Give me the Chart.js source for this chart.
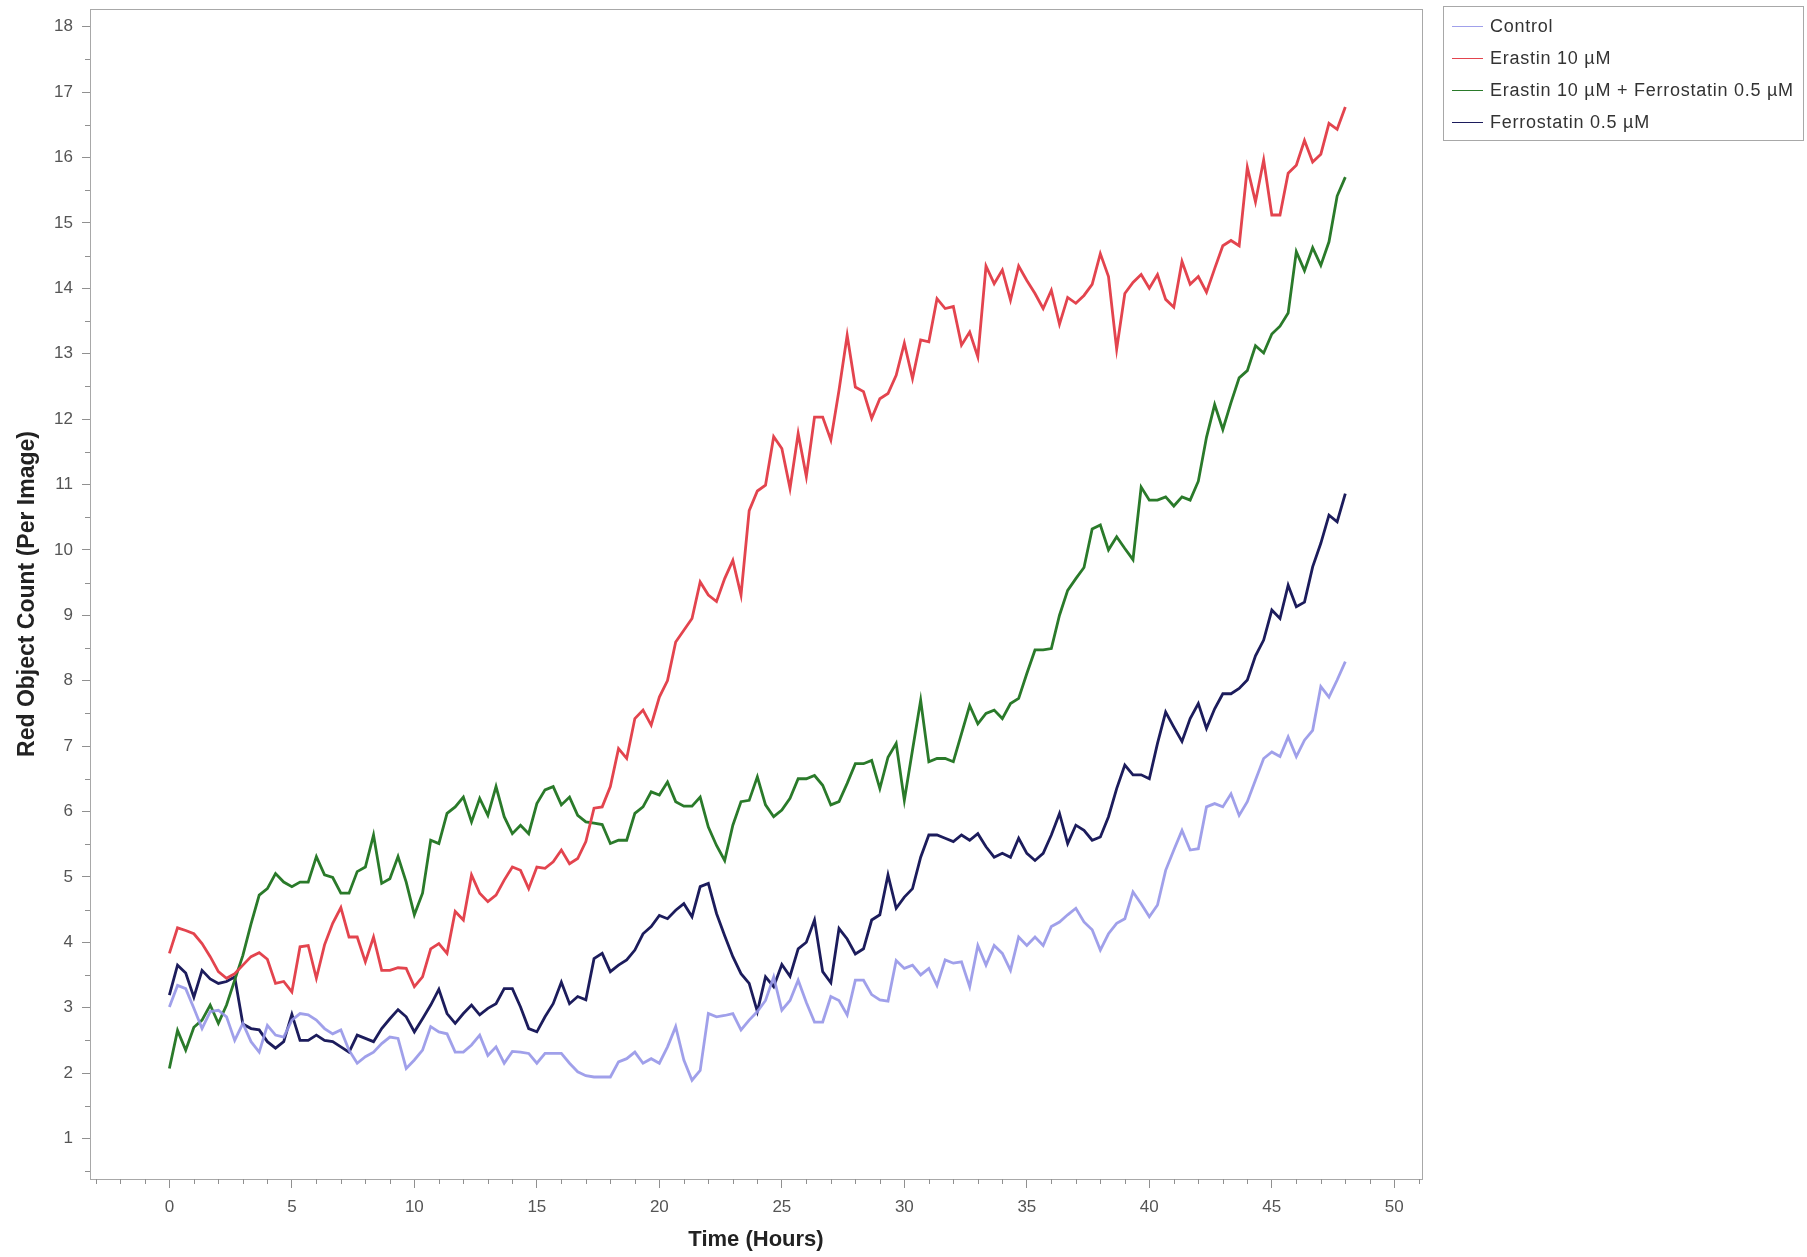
<!DOCTYPE html>
<html>
<head>
<meta charset="utf-8">
<script src="https://cdn.jsdelivr.net/npm/chart.js@4.4.0/dist/chart.umd.min.js"></script>
<style>
html, body { margin: 0; padding: 0; background: #fff; }
#wrap { position: relative; width: 1807px; height: 1257px; }
#legend {
    position: absolute; left: 1443px; top: 6px; width: 361px; height: 135px;
    box-sizing: border-box; border: 1px solid #a8a8a8; padding-top: 3px;
    font-family: "Liberation Sans", Arial, sans-serif; font-size: 18px; letter-spacing: 0.75px; color: #333;
}
.item { display: flex; align-items: center; height: 32px; white-space: nowrap; }
.swatch { width: 31px; height: 0; border-top: 1.5px solid; margin-left: 8px; margin-right: 7px; }
</style>
</head>
<body>
<div id="wrap">
    <canvas id="chart-1" width="1807" height="1257"></canvas>
    <div id="legend"></div>
</div>
<script>
// sampled every 20 minutes, 0 .. 48 h
const STEP = 1 / 3;

const control = [
    3.01, 3.34, 3.29, 2.99, 2.68, 2.94, 2.96, 2.86, 2.50, 2.76, 2.48, 2.32,
    2.73, 2.58, 2.55, 2.81, 2.91, 2.89, 2.81, 2.68, 2.60, 2.66, 2.35, 2.15,
    2.25, 2.32, 2.45, 2.55, 2.53, 2.07, 2.20, 2.35, 2.71, 2.63, 2.60, 2.32,
    2.32, 2.43, 2.58, 2.27, 2.40, 2.15, 2.33, 2.32, 2.30, 2.15, 2.30, 2.30,
    2.30, 2.15, 2.02, 1.96, 1.94, 1.94, 1.94, 2.17, 2.22, 2.32, 2.15, 2.22,
    2.15, 2.40, 2.71, 2.20, 1.89, 2.04, 2.91, 2.86, 2.88, 2.91, 2.66, 2.81,
    2.94, 3.11, 3.47, 2.96, 3.11, 3.42, 3.08, 2.78, 2.78, 3.17, 3.11, 2.89,
    3.42, 3.42, 3.20, 3.12, 3.10, 3.72, 3.60, 3.65, 3.50, 3.60, 3.34, 3.73,
    3.68, 3.70, 3.32, 3.95, 3.65, 3.95, 3.83, 3.57, 4.08, 3.95, 4.08, 3.95,
    4.24, 4.31, 4.42, 4.52, 4.31, 4.19, 3.88, 4.13, 4.29, 4.36, 4.77, 4.59,
    4.39, 4.57, 5.10, 5.41, 5.71, 5.41, 5.43, 6.07, 6.12, 6.07, 6.27, 5.94,
    6.15, 6.48, 6.81, 6.91, 6.84, 7.14, 6.84, 7.09, 7.24, 7.91, 7.75, 8.01,
    8.29
];

const erastin = [
    3.83, 4.22, 4.18, 4.13, 3.98, 3.78, 3.55, 3.45, 3.52, 3.65, 3.78, 3.84,
    3.74, 3.37, 3.40, 3.24, 3.93, 3.95, 3.45, 3.96, 4.29, 4.53, 4.08, 4.08,
    3.70, 4.08, 3.57, 3.57, 3.61, 3.60, 3.32, 3.47, 3.90, 3.98, 3.83, 4.47,
    4.34, 5.03, 4.75, 4.62, 4.72, 4.95, 5.15, 5.10, 4.82, 5.15, 5.13, 5.23,
    5.41, 5.20, 5.28, 5.54, 6.05, 6.07, 6.38, 6.96, 6.81, 7.42, 7.55, 7.32,
    7.75, 8.00, 8.59, 8.77, 8.95, 9.51, 9.31, 9.21, 9.56, 9.84, 9.31, 10.60,
    10.90, 10.99, 11.73, 11.55, 10.94, 11.78, 11.12, 12.03, 12.03, 11.68, 12.44, 13.28,
    12.49, 12.42, 12.01, 12.31, 12.39, 12.67, 13.16, 12.62, 13.21, 13.18, 13.84, 13.69,
    13.72, 13.13, 13.33, 12.95, 14.34, 14.07, 14.28, 13.82, 14.34, 14.12, 13.92, 13.69,
    13.97, 13.45, 13.86, 13.77, 13.89, 14.06, 14.53, 14.18, 13.07, 13.92, 14.09, 14.21,
    14.00, 14.21, 13.83, 13.71, 14.41, 14.06, 14.18, 13.94, 14.30, 14.65, 14.73, 14.65,
    15.85, 15.32, 15.96, 15.12, 15.12, 15.76, 15.88, 16.26, 15.93, 16.05, 16.52, 16.43,
    16.77
];

const erastinFerro = [
    2.07, 2.65, 2.35, 2.70, 2.81, 3.04, 2.76, 3.04, 3.42, 3.80, 4.28, 4.72,
    4.82, 5.05, 4.92, 4.85, 4.92, 4.92, 5.31, 5.03, 4.99, 4.75, 4.75, 5.08,
    5.15, 5.64, 4.90, 4.97, 5.31, 4.92, 4.42, 4.75, 5.56, 5.51, 5.97, 6.07,
    6.22, 5.84, 6.20, 5.94, 6.38, 5.92, 5.66, 5.79, 5.66, 6.12, 6.33, 6.38,
    6.10, 6.22, 5.94, 5.84, 5.82, 5.80, 5.51, 5.56, 5.56, 5.97, 6.07, 6.30,
    6.25, 6.45, 6.15, 6.08, 6.08, 6.22, 5.76, 5.48, 5.25, 5.79, 6.15, 6.17,
    6.53, 6.10, 5.92, 6.02, 6.20, 6.50, 6.50, 6.55, 6.40, 6.10, 6.15, 6.43,
    6.73, 6.73, 6.78, 6.35, 6.83, 7.04, 6.17, 6.94, 7.70, 6.76, 6.81, 6.81,
    6.76, 7.19, 7.62, 7.34, 7.50, 7.55, 7.42, 7.65, 7.73, 8.11, 8.47, 8.47,
    8.49, 9.00, 9.38, 9.56, 9.73, 10.32, 10.38, 10.00, 10.20, 10.02, 9.85, 10.96,
    10.76, 10.76, 10.81, 10.67, 10.81, 10.76, 11.05, 11.72, 12.22, 11.84, 12.25, 12.63,
    12.74, 13.12, 13.01, 13.30, 13.42, 13.62, 14.56, 14.27, 14.62, 14.35, 14.71, 15.41,
    15.70
];

const ferrostatin = [
    3.19, 3.65, 3.53, 3.16, 3.57, 3.44, 3.37, 3.40, 3.47, 2.75, 2.68, 2.66,
    2.48, 2.38, 2.48, 2.90, 2.50, 2.50, 2.58, 2.50, 2.48, 2.40, 2.32, 2.58,
    2.53, 2.48, 2.68, 2.83, 2.97, 2.86, 2.63, 2.83, 3.04, 3.28, 2.91, 2.76,
    2.91, 3.04, 2.89, 2.99, 3.06, 3.29, 3.29, 3.01, 2.68, 2.63, 2.86, 3.06,
    3.39, 3.06, 3.17, 3.12, 3.75, 3.83, 3.55, 3.65, 3.73, 3.88, 4.13, 4.24,
    4.41, 4.36, 4.49, 4.59, 4.39, 4.85, 4.90, 4.44, 4.10, 3.78, 3.52, 3.37,
    2.94, 3.47, 3.32, 3.66, 3.48, 3.90, 4.00, 4.34, 3.55, 3.38, 4.21, 4.05,
    3.82, 3.90, 4.34, 4.42, 5.03, 4.52, 4.69, 4.82, 5.30, 5.64, 5.64, 5.59,
    5.54, 5.64, 5.56, 5.66, 5.46, 5.30, 5.36, 5.30, 5.59, 5.36, 5.25, 5.36,
    5.64, 5.97, 5.51, 5.79, 5.71, 5.56, 5.61, 5.92, 6.35, 6.71, 6.56, 6.56,
    6.50, 7.04, 7.52, 7.29, 7.07, 7.42, 7.65, 7.27, 7.57, 7.80, 7.80, 7.88,
    8.01, 8.38, 8.62, 9.08, 8.95, 9.46, 9.13, 9.20, 9.74, 10.10, 10.53, 10.43,
    10.86
];

const seriesLabels = ['Control', 'Erastin 10 µM', 'Erastin 10 µM + Ferrostatin 0.5 µM', 'Ferrostatin 0.5 µM'];
const seriesValues = [control, erastin, erastinFerro, ferrostatin];
const seriesColors = ['rgba(150,150,232,0.9)', '#e3444e', '#2a7a2a', '#1c1c5c'];

const toPoints = (vals) => vals.map((v, i) => ({ x: i * STEP, y: v }));

const datasets = seriesValues.map((vals, i) => ({
    label: seriesLabels[i],
    data: toPoints(vals),
    borderColor: seriesColors[i],
    borderWidth: 2.8,
    pointRadius: 0,
    tension: 0,
    fill: false
}));

// minor ticks and the grey frame round the plot
const frameAndMinor = {
    id: 'frameAndMinor',
    afterDraw(chart) {
        const ctx = chart.ctx;
        const a = chart.chartArea;
        const xs = chart.scales.x, ys = chart.scales.y;
        ctx.save();
        ctx.strokeStyle = '#a8a8a8';
        ctx.lineWidth = 1;
        ctx.strokeRect(Math.round(a.left) + 0.5, Math.round(a.top) + 0.5,
                       Math.round(a.right - a.left), Math.round(a.bottom - a.top));
        ctx.strokeStyle = '#909090';
        ctx.beginPath();
        for (let v = Math.ceil(xs.min); v <= xs.max; v++) {
            if (v % 5 === 0) continue;
            const px = Math.round(xs.getPixelForValue(v)) + 0.5;
            ctx.moveTo(px, a.bottom);
            ctx.lineTo(px, a.bottom + 5);
        }
        for (let v = Math.ceil(ys.min * 2) / 2; v <= ys.max; v += 0.5) {
            if (Number.isInteger(v)) continue;
            const py = Math.round(ys.getPixelForValue(v)) + 0.5;
            ctx.moveTo(a.left, py);
            ctx.lineTo(a.left - 5, py);
        }
        ctx.stroke();
        ctx.restore();
    }
};

const tickFont = { family: '"Liberation Sans", Arial, sans-serif', size: 17 };
const titleFont = { family: '"Liberation Sans", Arial, sans-serif', size: 22, weight: 'bold' };

const ctx = document.getElementById('chart-1').getContext('2d');
const myChart = new Chart(ctx, {
    type: 'line',
    data: { datasets: datasets },
    options: {
        responsive: false,
        animation: false,
        layout: { padding: { top: 9, right: 385, left: 0, bottom: 0 } },
        plugins: { legend: { display: false }, tooltip: { enabled: false } },
        scales: {
            x: {
                type: 'linear',
                min: -3.24,
                max: 51.13,
                afterFit: (scale) => { scale.height = 78; scale.paddingLeft = 0; scale.paddingRight = 0; },
                ticks: { stepSize: 5, includeBounds: false, font: tickFont, color: '#555', padding: 9, maxRotation: 0, autoSkip: false },
                grid: { drawOnChartArea: false, drawTicks: true, tickLength: 9, tickColor: '#909090' },
                border: { display: false },
                title: { display: true, text: 'Time (Hours)', font: titleFont, color: '#222', padding: { top: 0, bottom: 4 } }
            },
            y: {
                type: 'linear',
                min: 0.38,
                max: 18.27,
                afterFit: (scale) => { scale.width = 90; scale.paddingTop = 0; scale.paddingBottom = 0; },
                ticks: { stepSize: 1, includeBounds: false, font: tickFont, color: '#555', padding: 9 },
                grid: { drawOnChartArea: false, drawTicks: true, tickLength: 8, tickColor: '#909090' },
                border: { display: false },
                title: { display: true, text: 'Red Object Count (Per Image)', font: { ...titleFont, size: 23 }, color: '#222', padding: { top: 14, bottom: 0 } }
            }
        }
    },
    plugins: [frameAndMinor]
});

// legend box, built from the chart's datasets
const legendEl = document.getElementById('legend');
myChart.data.datasets.forEach((ds) => {
    const row = document.createElement('div');
    row.className = 'item';
    const sw = document.createElement('span');
    sw.className = 'swatch';
    sw.style.borderTopColor = ds.borderColor;
    const txt = document.createElement('span');
    txt.textContent = ds.label;
    row.appendChild(sw);
    row.appendChild(txt);
    legendEl.appendChild(row);
});
</script>
</body>
</html>
